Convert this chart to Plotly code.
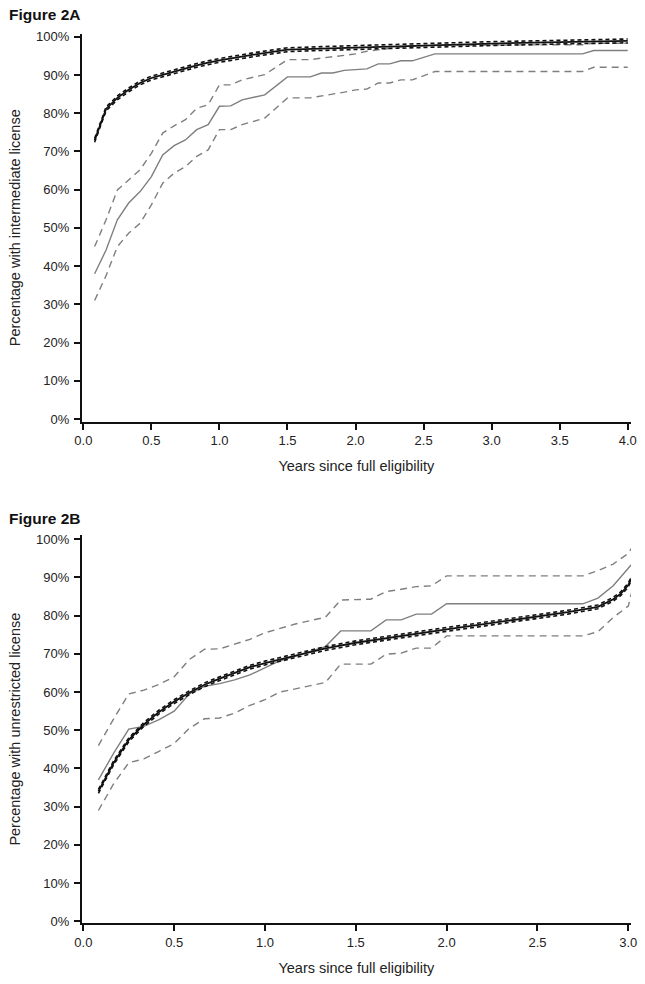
import plotly.graph_objects as go

# ---------------- Figure 2A data (intermediate license) ----------------
a_model_t = [0.083, 0.167, 0.25, 0.333, 0.417, 0.5, 0.583, 0.667, 0.75, 0.833, 0.917,
             1.0, 1.25, 1.5, 1.75, 2.0, 2.5, 3.0, 3.5, 4.0]
a_model = [72.9, 81.1, 84.0, 86.1, 87.9, 89.2, 90.0, 90.9, 91.7, 92.5, 93.2,
           93.8, 95.3, 96.6, 96.9, 97.2, 97.7, 98.2, 98.6, 98.9]

a_obs_t = [0.083, 0.167, 0.25, 0.333, 0.417, 0.5, 0.583, 0.667, 0.75, 0.833, 0.917,
           1.0, 1.083, 1.167, 1.333, 1.5, 1.667, 1.75, 1.833, 1.917, 2.0, 2.083,
           2.167, 2.25, 2.333, 2.417, 2.583, 3.667, 3.75, 4.0]
a_obs = [38.0, 44.2, 52.1, 56.5, 59.5, 63.4, 69.1, 71.5, 73.0, 75.7, 77.0,
         81.8, 81.9, 83.5, 84.8, 89.5, 89.5, 90.5, 90.5, 91.2, 91.4, 91.6,
         92.9, 92.9, 93.7, 93.7, 95.5, 95.5, 96.4, 96.4]
a_hi = [45.1, 52.1, 59.9, 62.6, 65.2, 69.5, 74.8, 76.7, 78.3, 81.3, 82.2,
        87.4, 87.4, 88.7, 90.1, 94.0, 94.0, 94.4, 94.7, 95.1, 95.5, 96.2,
        96.6, 97.0, 97.3, 97.5, 97.8, 97.9, 98.3, 98.3]
a_lo = [31.0, 37.5, 45.1, 48.6, 51.2, 56.0, 61.7, 64.3, 66.0, 68.7, 70.4,
        75.7, 75.7, 77.0, 78.7, 84.0, 84.0, 84.5, 84.8, 85.5, 86.1, 86.3,
        87.9, 87.9, 88.7, 88.7, 90.9, 90.9, 92.0, 92.0]

# ---------------- Figure 2B data (unrestricted license) ----------------
b_model_t = [0.083, 0.167, 0.25, 0.333, 0.417, 0.5, 0.583, 0.667, 0.75, 0.833, 0.917,
             1.0, 1.167, 1.333, 1.5, 1.667, 1.833, 2.0, 2.167, 2.333, 2.5, 2.667,
             2.833, 2.917, 2.958, 3.0, 3.02]
b_model = [34.0, 41.5, 47.5, 51.5, 54.8, 57.5, 59.8, 61.9, 63.5, 65.0, 66.5,
           67.6, 69.6, 71.4, 72.9, 74.1, 75.3, 76.4, 77.5, 78.6, 79.8, 80.9,
           82.3, 84.3, 85.7, 88.0, 90.0]

b_obs_t = [0.083, 0.167, 0.25, 0.333, 0.417, 0.5, 0.583, 0.667, 0.75, 0.833, 0.917,
           1.0, 1.083, 1.167, 1.333, 1.417, 1.583, 1.667, 1.75, 1.833, 1.917, 2.0,
           2.75, 2.833, 2.917, 3.0, 3.02]
b_obs = [37.0, 44.0, 50.3, 51.0, 52.8, 55.0, 59.5, 61.5, 62.2, 63.2, 64.5,
         66.3, 68.2, 69.4, 71.9, 76.0, 76.0, 78.9, 78.9, 80.4, 80.4, 83.1,
         83.1, 84.6, 87.8, 92.4, 93.5]
b_hi = [46.0, 53.0, 59.5, 60.5, 62.0, 64.0, 68.5, 71.2, 71.3, 72.5, 73.8,
        75.5, 76.7, 77.8, 79.6, 84.1, 84.3, 86.3, 86.9, 87.6, 87.8, 90.4,
        90.4, 91.8, 93.5, 96.3, 97.8]
b_lo = [29.0, 36.0, 41.5, 42.5, 44.5, 46.5, 50.5, 53.0, 53.2, 54.5, 56.5,
        58.0, 60.0, 60.8, 62.5, 67.3, 67.3, 69.9, 70.2, 71.5, 71.5, 74.7,
        74.7, 75.8, 79.5, 82.5, 86.3]

# half-width of the (very narrow) model confidence band, in percentage points
model_ci_half = 0.5

y_ticks = [0, 10, 20, 30, 40, 50, 60, 70, 80, 90, 100]
y_tick_text = ["0%", "10%", "20%", "30%", "40%", "50%", "60%", "70%", "80%", "90%", "100%"]
a_x_ticks = [0.0, 0.5, 1.0, 1.5, 2.0, 2.5, 3.0, 3.5, 4.0]
b_x_ticks = [0.0, 0.5, 1.0, 1.5, 2.0, 2.5, 3.0]

FONT = "Liberation Sans, Arial, Helvetica, sans-serif"
GRAY = "#7f7f7f"
BLACK = "#111111"

W, H = 645, 984

fig = go.Figure()


def add_panel(xa, ya, mt, m, ot, o, hi, lo):
    common = dict(mode="lines", xaxis=xa, yaxis=ya, showlegend=False, hoverinfo="skip")
    fig.add_trace(go.Scatter(x=ot, y=hi, line=dict(color=GRAY, width=1.4, dash="7px,5px"), **common))
    fig.add_trace(go.Scatter(x=ot, y=lo, line=dict(color=GRAY, width=1.4, dash="7px,5px"), **common))
    fig.add_trace(go.Scatter(x=ot, y=o, line=dict(color=GRAY, width=1.4), **common))
    fig.add_trace(go.Scatter(x=mt, y=[v + model_ci_half for v in m],
                             line=dict(color=BLACK, width=1.6, dash="4px,3px"), **common))
    fig.add_trace(go.Scatter(x=mt, y=[v - model_ci_half for v in m],
                             line=dict(color=BLACK, width=1.6, dash="4px,3px"), **common))
    fig.add_trace(go.Scatter(x=mt, y=m, line=dict(color=BLACK, width=1.8), **common))


add_panel("x", "y", a_model_t, a_model, a_obs_t, a_obs, a_hi, a_lo)
add_panel("x2", "y2", b_model_t, b_model, b_obs_t, b_obs, b_hi, b_lo)

tickfont = dict(family=FONT, size=13, color="#222222")
titlefont = dict(family=FONT, size=14.5, color="#222222")

xcommon = dict(showline=True, linecolor=BLACK, linewidth=1.5, ticks="outside", ticklen=6,
               tickwidth=1.5, tickcolor=BLACK, showgrid=False, zeroline=False,
               automargin=False, tickfont=tickfont, tickformat=".1f",
               title=dict(text="Years since full eligibility", font=titlefont, standoff=14))
ycommon = dict(showline=True, linecolor=BLACK, linewidth=1.5, ticks="outside", ticklen=6,
               tickwidth=1.5, tickcolor=BLACK, showgrid=False, zeroline=False,
               automargin=False, tickfont=tickfont, tickmode="array",
               tickvals=y_ticks, ticktext=y_tick_text, ticklabelstandoff=2)

x_dom = [81.7 / W, 631 / W]

fig.update_layout(
    width=W, height=H,
    margin=dict(l=0, r=0, t=0, b=0, autoexpand=False),
    paper_bgcolor="white", plot_bgcolor="white",
    xaxis=dict(domain=x_dom, range=[-0.012, 4.024], tickvals=a_x_ticks, anchor="y", **xcommon),
    yaxis=dict(domain=[1 - 422 / H, 1 - 33.5 / H], range=[-0.78, 100.84], anchor="x",
               title=dict(text="Percentage with intermediate license", font=titlefont, standoff=12),
               **ycommon),
    xaxis2=dict(domain=x_dom, range=[-0.009, 3.015], tickvals=b_x_ticks, anchor="y2", **xcommon),
    yaxis2=dict(domain=[1 - 923.3 / H, 1 - 535 / H], range=[-0.52, 101.1], anchor="x2",
                title=dict(text="Percentage with unrestricted license", font=titlefont, standoff=12),
                **ycommon),
    annotations=[
        dict(text="<b>Figure 2A</b>", x=7 / W, y=1 - 14.5 / H, xref="paper", yref="paper",
             xanchor="left", yanchor="middle", showarrow=False,
             font=dict(family=FONT, size=15.5, color="#111111")),
        dict(text="<b>Figure 2B</b>", x=7 / W, y=1 - 518 / H, xref="paper", yref="paper",
             xanchor="left", yanchor="middle", showarrow=False,
             font=dict(family=FONT, size=15.5, color="#111111")),
    ],
)

fig.write_html(
    "out.html",
    config=dict(displayModeBar=False),
    post_script="document.body.style.margin='0';document.body.style.overflow='hidden';",
)
